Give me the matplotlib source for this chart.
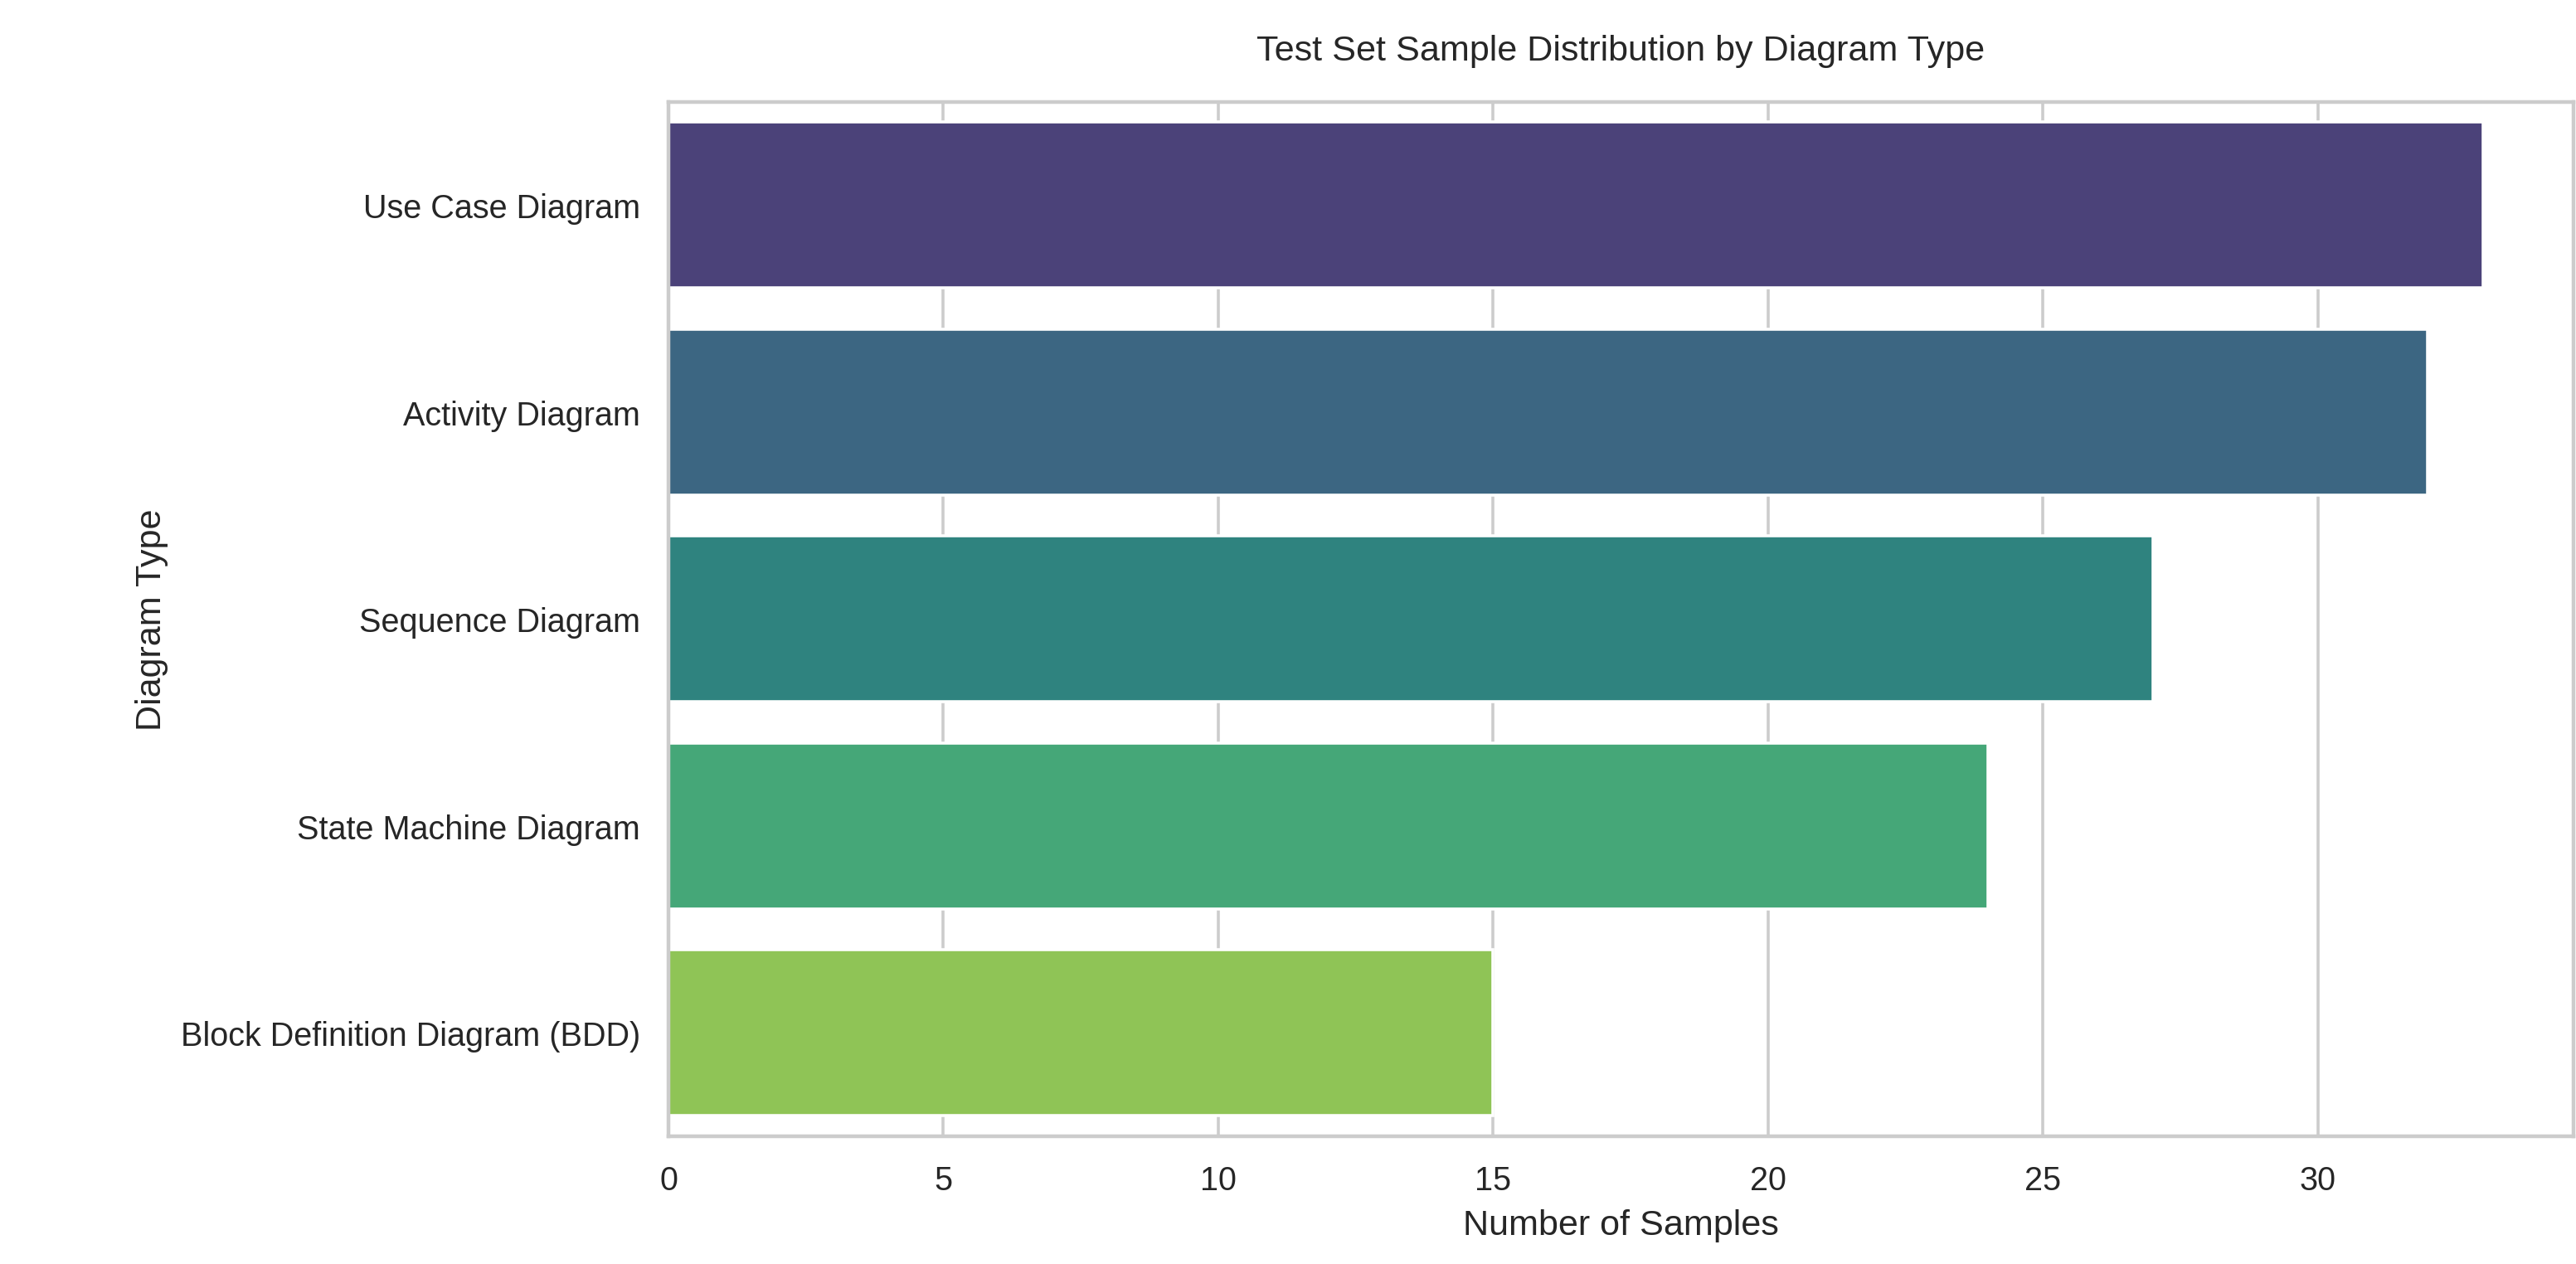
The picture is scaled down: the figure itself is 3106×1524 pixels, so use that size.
import matplotlib
matplotlib.use("Agg")
import matplotlib.pyplot as plt
import seaborn as sns
import pandas as pd

categories = ["Use Case Diagram", "Activity Diagram", "Sequence Diagram",
              "State Machine Diagram", "Block Definition Diagram (BDD)"]
counts = [33, 32, 27, 24, 15]

sns.set_theme(style="whitegrid")
plt.rcParams['font.family'] = ['Liberation Sans', 'DejaVu Sans']

df = pd.DataFrame({"Diagram Type": categories, "Number of Samples": counts})
fig = plt.figure(figsize=(3106/259, 1525/259), dpi=259)
ax = fig.add_axes([0.2595, 0.101, 0.7395, 0.818])
sns.barplot(data=df, x="Number of Samples", y="Diagram Type", hue="Diagram Type",
            palette="viridis", legend=False, ax=ax)
ax.set_title("Test Set Sample Distribution by Diagram Type", fontsize=12, pad=14)
ax.set_xlabel("Number of Samples", fontsize=12)
ax.set_ylabel("Diagram Type", fontsize=12)
ax.tick_params(labelsize=11)
fig.savefig("out.png", dpi=259)
